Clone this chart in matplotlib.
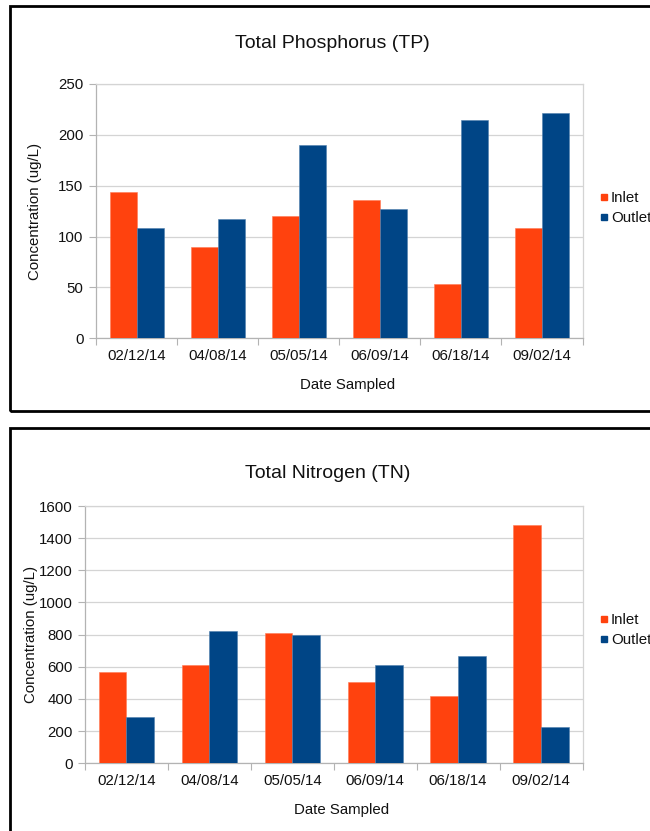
import matplotlib
matplotlib.use("Agg")
import matplotlib.pyplot as plt
from matplotlib.patches import Rectangle
from matplotlib.lines import Line2D
import numpy as np

plt.rcParams['font.family'] = ['Liberation Sans', 'DejaVu Sans']

dates = ["02/12/14", "04/08/14", "05/05/14", "06/09/14", "06/18/14", "09/02/14"]
series_names = ["Inlet", "Outlet"]

tp_inlet = [144, 90, 120, 136, 53, 108]
tp_outlet = [108, 117, 190, 127, 215, 221]

tn_inlet = [565, 610, 810, 505, 420, 1480]
tn_outlet = [288, 825, 800, 610, 665, 225]

INLET_COLOR = "#ff420e"
OUTLET_COLOR = "#004586"
GRID_COLOR = "#d4d4d4"
AXIS_COLOR = "#b3b3b3"
TEXT_COLOR = "#111111"
FS = 10.8

W, H = 650, 831
fig = plt.figure(figsize=(W / 100, H / 100), dpi=100)
fig.patch.set_facecolor("white")


def px_rect(x0, y0, x1, y1):
    """Convert a pixel box (top-left origin) to figure fractions."""
    return [x0 / W, 1 - y1 / H, (x1 - x0) / W, (y1 - y0) / H]


def draw_panel(frame, ax_box, title, title_x, title_y, inlet, outlet, ymax,
               ystep, ylabel_x, xlabel_y, legend_y):
    # black frame around the panel
    fx0, fy0, fx1, fy1 = frame
    fig.patches.append(Rectangle((fx0 / W, 1 - fy1 / H), (fx1 - fx0) / W,
                                 (fy1 - fy0) / H, transform=fig.transFigure,
                                 fill=False, edgecolor="black", linewidth=2.0,
                                 zorder=0))

    ax = fig.add_axes(px_rect(*ax_box))
    n = len(dates)
    x = np.arange(n)
    bw = 1 / 3
    ax.bar(x - bw / 2, inlet, width=bw, color=INLET_COLOR, zorder=3,
           edgecolor="#ff7a55", linewidth=0.4)
    ax.bar(x + bw / 2, outlet, width=bw, color=OUTLET_COLOR, zorder=3,
           edgecolor="#4f7fae", linewidth=0.4)

    ax.set_xlim(-0.5, n - 0.5)
    ax.set_ylim(0, ymax)
    ax.set_yticks(np.arange(0, ymax + 1, ystep))
    ax.set_xticks(x)
    ax.set_xticklabels(dates)
    ax.set_xticks(np.arange(-0.5, n, 1.0), minor=True)
    ax.tick_params(axis="x", which="major", length=0, pad=8,
                   labelsize=FS, labelcolor=TEXT_COLOR)
    ax.tick_params(axis="x", which="minor", length=5, width=0.8,
                   color=AXIS_COLOR, direction="out")
    ax.tick_params(axis="y", length=5, width=0.8, color=AXIS_COLOR,
                   labelsize=FS, labelcolor=TEXT_COLOR, pad=4)
    ax.grid(axis="y", color=GRID_COLOR, linewidth=0.9, zorder=0)
    ax.set_axisbelow(True)
    for s in ax.spines.values():
        s.set_color(AXIS_COLOR)
        s.set_linewidth(0.9)
    for s in ("top", "right"):
        ax.spines[s].set_color(GRID_COLOR)

    cx = (ax_box[0] + ax_box[2]) / 2
    fig.text(title_x / W, 1 - title_y / H, title,
             ha="center", va="center", fontsize=14, color=TEXT_COLOR)
    fig.text(ylabel_x / W, 1 - (ax_box[1] + ax_box[3]) / 2 / H,
             "Concentration (ug/L)", rotation=90, ha="center", va="center",
             fontsize=FS, color=TEXT_COLOR)
    fig.text((cx + 8) / W, 1 - xlabel_y / H, "Date Sampled", ha="center",
             va="center", fontsize=FS, color=TEXT_COLOR)

    handles = [Line2D([], [], marker="s", linestyle="none", markersize=4.5,
                      color=c) for c in (INLET_COLOR, OUTLET_COLOR)]
    fig.legend(handles, series_names, loc="center left",
               bbox_to_anchor=(599 / W, 1 - legend_y / H), frameon=False,
               fontsize=FS, handlelength=0.6, handletextpad=0.2,
               labelspacing=0.4, borderaxespad=0, borderpad=0,
               labelcolor=TEXT_COLOR)
    return ax


draw_panel(frame=(10, 6, 662, 411), ax_box=(96, 84, 582.5, 338.3),
           title="Total Phosphorus (TP)", title_x=332, title_y=44,
           inlet=tp_inlet, outlet=tp_outlet, ymax=250, ystep=50,
           ylabel_x=35, xlabel_y=385, legend_y=208)

draw_panel(frame=(10, 428, 662, 845), ax_box=(85, 506, 582.5, 763.3),
           title="Total Nitrogen (TN)", title_x=328, title_y=473,
           inlet=tn_inlet, outlet=tn_outlet, ymax=1600, ystep=200,
           ylabel_x=31, xlabel_y=810, legend_y=630)

fig.savefig("out.png", dpi=100)
